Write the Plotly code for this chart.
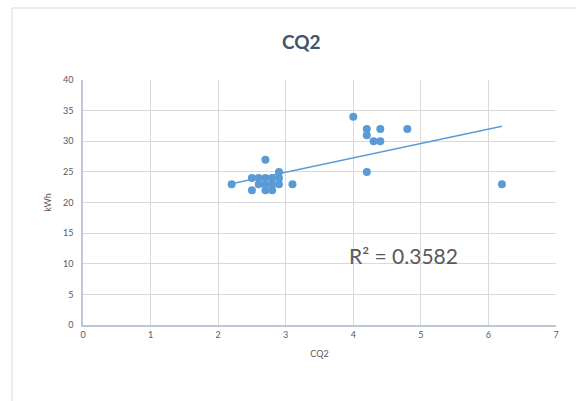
import numpy as np
import plotly.graph_objects as go

cq2 = [2.2, 2.5, 2.5, 2.6, 2.6, 2.7, 2.7, 2.7, 2.7, 2.8, 2.8, 2.8, 2.9, 2.9, 2.9, 3.1,
       4.0, 4.2, 4.2, 4.2, 4.3, 4.4, 4.4, 4.8, 6.2]
kwh = [23, 24, 22, 24, 23, 27, 24, 23, 22, 24, 23, 22, 25, 24, 23, 23,
       34, 32, 31, 25, 30, 32, 30, 32, 23]
r2_label = "R² = 0.3582"
x_ticks = [0, 1, 2, 3, 4, 5, 6, 7]
y_ticks = [0, 5, 10, 15, 20, 25, 30, 35, 40]

blue = "#5b9bd5"
font_family = "Lato, 'Open Sans', sans-serif"

slope, intercept = np.polyfit(cq2, kwh, 1)
tx = [min(cq2), max(cq2)]
ty = [slope * v + intercept for v in tx]

fig = go.Figure()
fig.add_trace(go.Scatter(x=tx, y=ty, mode="lines",
                         line=dict(color=blue, width=1.5), hoverinfo="skip"))
fig.add_trace(go.Scatter(x=cq2, y=kwh, mode="markers",
                         marker=dict(color=blue, size=8, line=dict(width=0))))

fig.add_shape(type="rect", xref="paper", yref="paper",
              x0=-0.150, y0=-0.35, x1=1.2, y1=1.294,
              line=dict(color="#d9d9d9", width=1), layer="below")

fig.add_annotation(x=4.74, y=11.4, text=r2_label, showarrow=False,
                   xref="x", yref="y", xanchor="center", yanchor="middle",
                   font=dict(family=font_family, size=21, color="#595959"))

fig.update_layout(
    width=576, height=401,
    margin=dict(l=83, r=20, t=80, b=76),
    paper_bgcolor="white", plot_bgcolor="white",
    showlegend=False,
    title=dict(text="<b>CQ2</b>", x=0.523, xanchor="center", y=0.895, yanchor="middle",
               font=dict(family=font_family, size=19, color="#44546a")),
    font=dict(family=font_family, size=9, color="#595959"),
)
fig.update_xaxes(range=[0, 7], tickvals=x_ticks, showgrid=True, gridcolor="#d9d9d9",
                 gridwidth=1, zeroline=False, showline=True, linecolor="#bfc7d5",
                 linewidth=1.5, ticks="", title=dict(text="CQ2", standoff=12,
                 font=dict(size=9, color="#595959")),
                 tickfont=dict(size=9, color="#595959"))
fig.update_yaxes(range=[0, 40], tickvals=y_ticks, showgrid=True, gridcolor="#d9d9d9",
                 gridwidth=1, zeroline=False, showline=True, linecolor="#bfc7d5",
                 linewidth=1.5, ticks="", ticklabelstandoff=6,
                 title=dict(text="kWh", standoff=10, font=dict(size=9, color="#595959")),
                 tickfont=dict(size=9, color="#595959"))

fig.write_html("out.html")
